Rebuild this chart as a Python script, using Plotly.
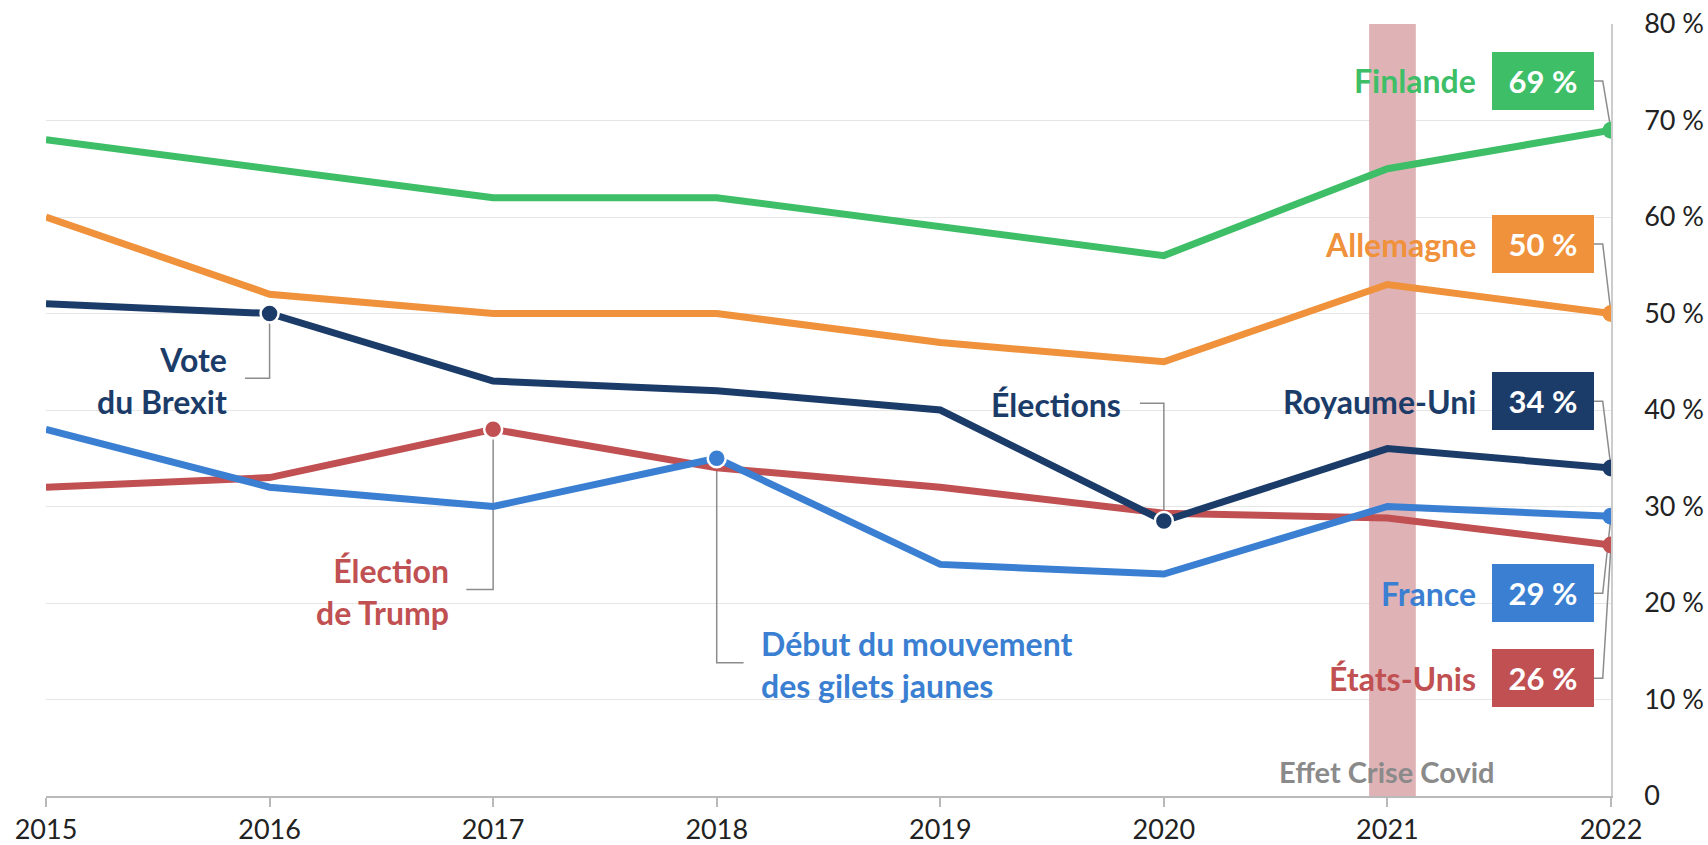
import plotly.graph_objects as go

# ---- data -------------------------------------------------------------
years = [2015, 2016, 2017, 2018, 2019, 2020, 2021, 2022]

finlande = [68, 65, 62, 62, 59, 56, 65, 69]
allemagne = [60, 52, 50, 50, 47, 45, 53, 50]
royaume_uni = [51, 50, 43, 42, 40, 28.5, 36, 34]
france = [38, 32, 30, 35, 24, 23, 30, 29]
etats_unis = [32, 33, 38, 34, 32, 29.3, 28.8, 26]

y_ticks = [0, 10, 20, 30, 40, 50, 60, 70, 80]
y_tick_labels = ["0", "10 %", "20 %", "30 %", "40 %", "50 %", "60 %", "70 %", "80 %"]

country_names = ["Finlande", "Allemagne", "États-Unis", "France", "Royaume-Uni"]
country_values = [finlande, allemagne, etats_unis, france, royaume_uni]

covid_label = "Effet Crise Covid"

# ---- style ------------------------------------------------------------
FONT = "Lato, 'Open Sans', sans-serif"
colors = {
    "Finlande": "#3dbe67",
    "Allemagne": "#f0913b",
    "États-Unis": "#c05052",
    "France": "#3a7fd2",
    "Royaume-Uni": "#1b3c69",
}
# vertical centre of each end-of-line value box (in axis units)
box_y = {
    "Finlande": 74.1,
    "Allemagne": 57.2,
    "Royaume-Uni": 40.9,
    "France": 21.0,
    "États-Unis": 12.2,
}
BOX_X = 2021.695       # centre of the value boxes
NAME_X = 2021.404      # right edge of the country names
ELBOW_X = 2021.963     # bend of the box connectors
BOX_RIGHT = 2021.923
CONNECTOR = "#8c8c8c"

# events: (series, year, text, text x, text y, anchor, elbow x, elbow y)
events = [
    ("Royaume-Uni", 2016, "Vote<br>du Brexit", 2015.82, 43.1, "right", 2015.89, 43.3),
    ("États-Unis", 2017, "Élection<br>de Trump", 2016.81, 21.2, "right", 2016.88, 21.4),
    ("France", 2018, "Début du mouvement<br>des gilets jaunes", 2018.19, 13.65, "left", 2018.12, 13.8),
    ("Royaume-Uni", 2020, "Élections", 2019.815, 40.55, "right", 2019.893, 40.7),
]

series = dict(zip(country_names, country_values))

fig = go.Figure()

# event leader lines (under the data lines)
for name, yr, _, _, _, _, ex, ey in events:
    yv = series[name][years.index(yr)]
    fig.add_trace(go.Scatter(
        x=[yr, yr, ex], y=[yv, ey, ey], mode="lines",
        line=dict(color=CONNECTOR, width=1.5), hoverinfo="skip", showlegend=False))

# box leader lines at the right end
for name in country_names:
    vals = series[name]
    fig.add_trace(go.Scatter(
        x=[BOX_RIGHT, ELBOW_X, years[-1]], y=[box_y[name], box_y[name], vals[-1]],
        mode="lines", line=dict(color=CONNECTOR, width=1.5),
        hoverinfo="skip", showlegend=False))

# data lines
for name in country_names:
    fig.add_trace(go.Scatter(
        x=years, y=series[name], mode="lines", name=name,
        line=dict(color=colors[name], width=7), showlegend=False))

# end points
for name in country_names:
    fig.add_trace(go.Scatter(
        x=[years[-1]], y=[series[name][-1]], mode="markers",
        marker=dict(color=colors[name], size=17, line=dict(width=0)),
        hoverinfo="skip", showlegend=False))

# event points
for name, yr, *_ in events:
    fig.add_trace(go.Scatter(
        x=[yr], y=[series[name][years.index(yr)]], mode="markers",
        marker=dict(color=colors[name], size=18, line=dict(color="white", width=2.5)),
        hoverinfo="skip", showlegend=False))

annotations = []
for name in country_names:
    c = colors[name]
    annotations.append(dict(
        x=NAME_X, y=box_y[name], xref="x", yref="y", text=name,
        showarrow=False, xanchor="right", yanchor="middle",
        font=dict(family=FONT, size=32, color=c, weight="bold")))
    annotations.append(dict(
        x=BOX_X, y=box_y[name], xref="x", yref="y",
        text=f"{series[name][-1]:g} %",
        showarrow=False, xanchor="center", yanchor="middle",
        bgcolor=c, width=94, height=50, borderpad=4, borderwidth=0,
        font=dict(family=FONT, size=31, color="white", weight="bold")))

for name, yr, text, tx, ty, anchor, _, _ in events:
    annotations.append(dict(
        x=tx, y=ty, xref="x", yref="y", text=text, showarrow=False,
        xanchor=anchor, yanchor="middle", align=anchor,
        font=dict(family=FONT, size=32, color=colors[name], weight="bold")))

annotations.append(dict(
    x=2021.0, y=2.5, xref="x", yref="y", text=covid_label, showarrow=False,
    xanchor="center", yanchor="middle",
    font=dict(family=FONT, size=29, color="#8a8a8a", weight="bold")))

fig.update_layout(
    width=1708, height=845,
    margin=dict(l=46, r=97, t=24, b=49),
    paper_bgcolor="white", plot_bgcolor="white",
    font=dict(family=FONT, color="#222222"),
    annotations=annotations,
    shapes=[dict(
        type="rect", xref="x", yref="y", x0=2020.918, x1=2021.127, y0=0, y1=80,
        fillcolor="#dfb3b6", line=dict(width=0), layer="between")],
)

fig.update_xaxes(
    range=[2015, 2022], tickvals=years, ticktext=[str(y) for y in years],
    showgrid=False, zeroline=False, showline=True, linecolor="#b9b9b9", linewidth=1.5,
    ticks="outside", ticklen=9, tickwidth=1.5, tickcolor="#b9b9b9",
    tickfont=dict(family=FONT, size=27, color="#222222"), ticklabelstandoff=0,
    automargin=False,
)
fig.update_yaxes(
    range=[0, 80], side="right", tickvals=y_ticks, ticktext=y_tick_labels,
    showgrid=True, gridcolor="#e6e6e6", gridwidth=1, zeroline=False,
    showline=True, linecolor="#cccccc", linewidth=1.5, ticks="",
    tickfont=dict(family=FONT, size=27, color="#222222"), ticklabelstandoff=26,
    automargin=False,
)

fig.write_html("out.html", post_script="document.body.style.margin='0';")
